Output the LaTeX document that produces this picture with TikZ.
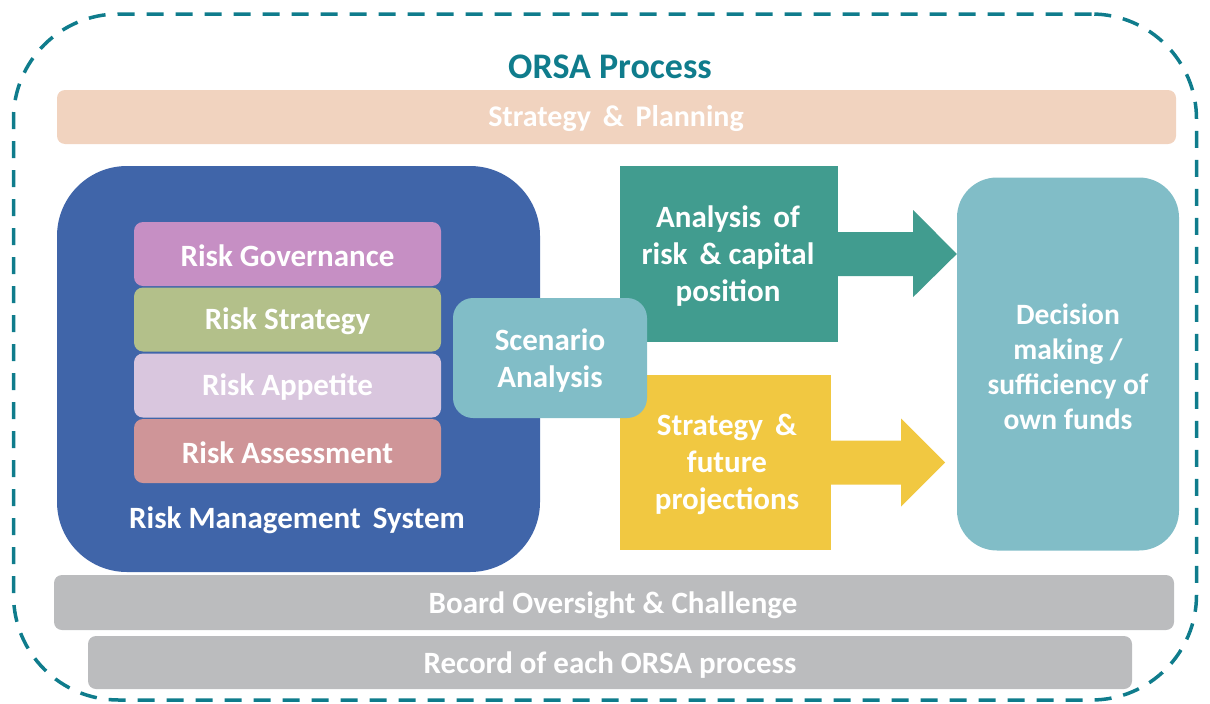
\documentclass[tikz,border=0pt]{standalone}
\usepackage{fontspec}
\setmainfont{Carlito}
\usetikzlibrary{calc}
\definecolor{dashc}{HTML}{0F7C8C}
\definecolor{rmsblue}{HTML}{4065A9}
\definecolor{govc}{HTML}{C68FC4}
\definecolor{stratc}{HTML}{B3C08A}
\definecolor{appc}{HTML}{D9C6DE}
\definecolor{assc}{HTML}{CF9598}
\definecolor{scenc}{HTML}{81BDC7}
\definecolor{tealc}{HTML}{419C8F}
\definecolor{yellc}{HTML}{F1C841}
\definecolor{peachc}{HTML}{F1D3BF}
\definecolor{grayc}{HTML}{BBBCBE}
\tikzset{
  lbl/.style={text=white, font=\fontsize{31}{37}\selectfont\bfseries, align=center, inner sep=0pt},
  bar/.style={lbl, rounded corners=8pt, minimum height=#1},
  riskbar/.style={lbl, fill=#1, rounded corners=9pt, minimum width=307pt, minimum height=64pt},
  sqbox/.style={lbl, fill=#1},
}
\begin{document}
\begin{tikzpicture}[x=1pt,y=-1pt]
\useasboundingbox (0,0) rectangle (1210,704);
% outer dashed frame
\node[draw=dashc, line width=3.5pt, dash pattern=on 17pt off 12pt, rounded corners=105pt,
      minimum width=1183pt, minimum height=686pt, inner sep=0pt] (frame) at (605,357) {};
\node[text=dashc, font=\fontsize{36}{42}\selectfont\bfseries, inner sep=0pt] (title) at (610,67) {ORSA Process};
% strategy & planning
\node[bar=54pt, fill=peachc, minimum width=1119pt] (plan) at (616.5,117) {};
\node[lbl, font=\fontsize{30}{36}\selectfont\bfseries] (planlbl) at (616,119) {Strategy \,\& \,Planning};
% risk management system
\node[fill=rmsblue, rounded corners=70pt, minimum width=483pt, minimum height=406pt, inner sep=0pt] (rms) at (298.5,369) {};
\node[riskbar=govc] (gov) at (287.5,254) {};
\node[lbl] (govlbl) at (287.5,256) {Risk Governance};
\node[riskbar=stratc] (str) at (287.5,319.5) {};
\node[lbl] (strlbl) at (287.5,321.5) {Risk Strategy};
\node[riskbar=appc] (app) at (287.5,385.5) {};
\node[lbl] (applbl) at (287.5,387.5) {Risk Appetite};
\node[riskbar=assc] (ass) at (287.5,451) {};
\node[lbl] (asslbl) at (287.5,453) {Risk Assessment};
\node[lbl] (rmslbl) at (297,520) {Risk Management \,System};
% analysis box
\node[sqbox=tealc, minimum width=218pt, minimum height=176pt] (ana) at (729,254) {};
\node[lbl] (analbl) at (728,256) {Analysis \,of\\risk \,\& capital\\position};
% yellow box
\node[sqbox=yellc, minimum width=211pt, minimum height=175pt] (fut) at (725.5,462.5) {};
\node[lbl] (futlbl) at (727,464.5) {Strategy \,\&\\future\\projections};
% decision box
\node[fill=scenc, rounded corners=40pt, minimum width=222pt, minimum height=373pt, inner sep=0pt] (dec) at (1068,364) {};
\node[lbl, font=\fontsize{29.5}{35}\selectfont\bfseries] (declbl) at (1068,367) {Decision\\making /\\sufficiency of\\own funds};
% block arrows
\fill[tealc] ($(ana.east)+(-1,-22)$) -- ++(76,0) -- ++(0,-22) -- (ana.east -| dec.west) -- ($(ana.east)+(75,43)$) -- ++(0,-21) -- ($(ana.east)+(-1,22)$) -- cycle;
\coordinate (futtip) at ($(fut.east)+(114,0)$);
\fill[yellc] ($(fut.east)+(-1,-22)$) -- ++(71,0) -- ++(0,-22) -- (futtip) -- ($(fut.east)+(70,44)$) -- ++(0,-22) -- ($(fut.east)+(-1,22)$) -- cycle;
% scenario analysis on top
\node[fill=scenc, rounded corners=20pt, minimum width=194pt, minimum height=120pt, inner sep=0pt] (scen) at (550,358) {};
\node[lbl] (scenlbl) at (550,361) {Scenario\\Analysis};
% bottom bars
\node[bar=55pt, fill=grayc, minimum width=1120pt] (board) at (614,602.5) {};
\node[lbl] (boardlbl) at (613,605) {Board Oversight \& Challenge};
\node[bar=53pt, fill=grayc, minimum width=1044pt] (rec) at (610,662.5) {};
\node[lbl] (reclbl) at (610,665) {Record of each ORSA process};
\end{tikzpicture}
\end{document}
